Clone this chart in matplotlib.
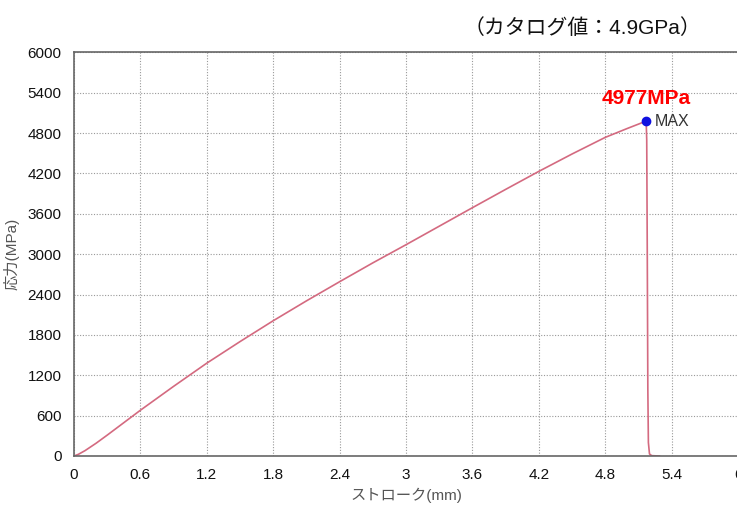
import matplotlib
matplotlib.use("Agg")
import matplotlib.pyplot as plt

plt.rcParams['font.family'] = ['Liberation Sans', 'Noto Sans CJK JP', 'DejaVu Sans']

stroke_mm = [0, 0.04, 0.1, 0.2, 0.3, 0.6, 0.9, 1.2, 1.5, 1.8, 2.1, 2.4, 2.7, 3.0, 3.3, 3.6,
             3.9, 4.2, 4.5, 4.8, 5.0, 5.17, 5.175, 5.18, 5.185, 5.19, 5.2, 5.22, 5.29]
stress_mpa = [0, 25, 80, 190, 310, 680, 1035, 1380, 1700, 2010, 2305, 2590, 2870, 3140, 3415, 3690,
              3962, 4230, 4488, 4735, 4868, 4977, 4700, 3000, 1000, 200, 30, 5, 0]
max_x = 5.17
max_y = 4977
xticks = [0, 0.6, 1.2, 1.8, 2.4, 3, 3.6, 4.2, 4.8, 5.4, 6]
yticks = [0, 600, 1200, 1800, 2400, 3000, 3600, 4200, 4800, 5400, 6000]

fig = plt.figure(figsize=(7.37, 5.07), dpi=100)
ax = fig.add_axes([0.1004, 0.1006, 0.901, 0.7963])
ax.plot(stroke_mm, stress_mpa, color='#d46a80', lw=1.2)
ax.plot([max_x], [max_y], 'o', color='#1010e0', ms=6)
ax.text(max_x + 0.08, max_y, 'MAX', fontsize=11.5, va='center', ha='left', color='#333333')
ax.text(max_x, max_y + 330, '4977MPa', fontsize=15, fontweight='bold', color='red', ha='center', va='center')

ax.set_xlim(0, 6)
ax.set_ylim(0, 6000)
ax.set_xticks(xticks)
ax.set_xticklabels([str(t) for t in xticks])
ax.set_yticks(yticks)
ax.grid(True, linestyle=(0, (1, 1.5)), color='#999999', lw=0.8)
ax.tick_params(labelsize=11, colors='#111111', length=0, pad=9)
for s in ax.spines.values():
    s.set_color('#666666')
    s.set_linewidth(1.2)

ax.set_xlabel('ストローク(mm)', fontsize=11, color='#555555', labelpad=4)
ax.set_ylabel('応力(MPa)', fontsize=11, color='#555555', labelpad=6)
fig.text(0.79, 0.945, '（カタログ値：4.9GPa）', fontsize=15, ha='center', va='center', color='#111111')

fig.savefig('out.png', dpi=100)
